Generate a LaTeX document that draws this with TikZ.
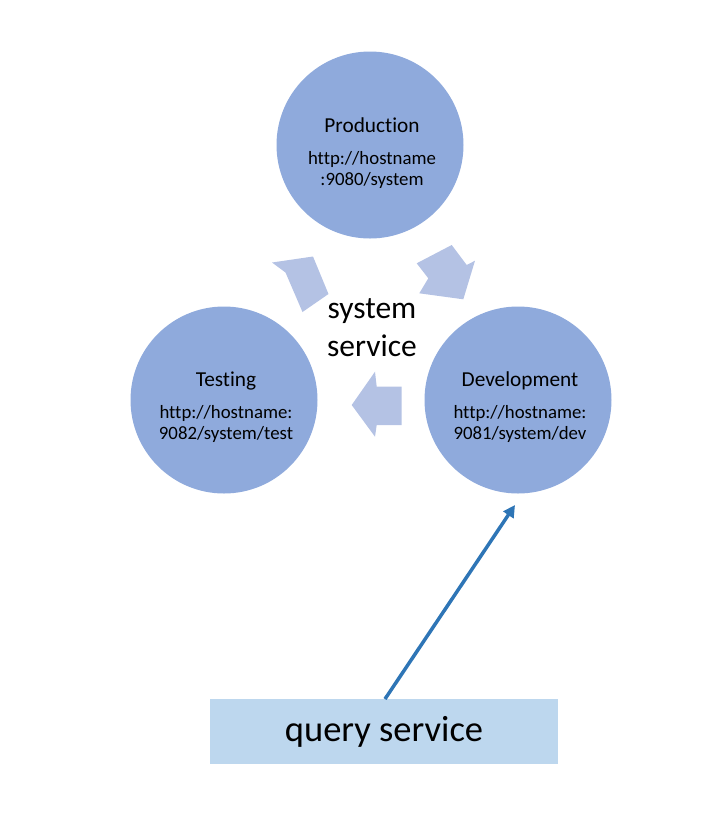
\documentclass[tikz,border=0pt]{standalone}
\usepackage{fontspec}
\setmainfont{Carlito}[Ligatures={NoCommon}]
\usetikzlibrary{arrows.meta}
\definecolor{circfill}{HTML}{8FAADC}
\definecolor{chevfill}{HTML}{B4C2E4}
\definecolor{qfill}{HTML}{BDD7EE}
\definecolor{arrowcol}{HTML}{2E75B6}
\tikzset{
  env/.style={circle, fill=circfill, minimum size=187pt, inner sep=0pt},
  envtitle/.style={font=\fontsize{21.3}{25}\selectfont, inner sep=0pt},
  envurl/.style={font=\fontsize{18.8}{21}\selectfont, align=center, inner sep=0pt},
  chev/.style={fill=chevfill, draw=none},
  qbox/.style={rectangle, fill=qfill, minimum width=348pt, minimum height=65pt, inner sep=0pt, font=\fontsize{36.5}{40}\selectfont},
  link/.style={draw=arrowcol, line width=3.5pt, -{Triangle[length=12pt,width=12pt]}}
}
\begin{document}
\begin{tikzpicture}[x=1pt,y=-1pt]
\useasboundingbox (0,0) rectangle (720,823);
% circles
\node[env] (prod) at (370,145) {};
\node[env] (test) at (224,400) {};
\node[env] (dev) at (518,400) {};
% titles and urls
\node[envtitle] (prodt) at (372,125) {Production};
\node[envurl] (produ) at (372,169.5) {http://hostname\\:9080/system};
\node[envtitle] (testt) at (226,381) {Testing};
\node[envurl] (testu) at (226,423.5) {http://hostname:\\9082/system/test};
\node[envtitle] (devt) at (520,381) {Development};
\node[envurl] (devu) at (520,423.5) {http://hostname:\\9081/system/dev};
% center text
\node[font=\fontsize{31.5}{38}\selectfont, align=center, inner sep=0pt] (sys) at (372,328) {system\\service};
% chevron arrows
\path[chev] (272,262.5) -- (313,256.5) -- (328.5,294) -- (302.5,312) -- (285.5,272.5) -- cycle;
\path[chev] (463.3,299.3) -- (419.3,293.3) -- (428.3,278.3) -- (416.7,263.3) -- (451.7,245) -- (466.7,265) -- (475,260.7) -- cycle;
\path[chev] (351.7,405) -- (375,371.7) -- (376.7,386.7) -- (401.7,386.7) -- (401.7,425) -- (376.7,425) -- (375,436.7) -- cycle;
% query service
\node[qbox] (q) at (384,731.5) {query service};
\coordinate (qa) at (385,699);
\coordinate (da) at (515,505);
\draw[link] (qa) -- (da);
\end{tikzpicture}
\end{document}
